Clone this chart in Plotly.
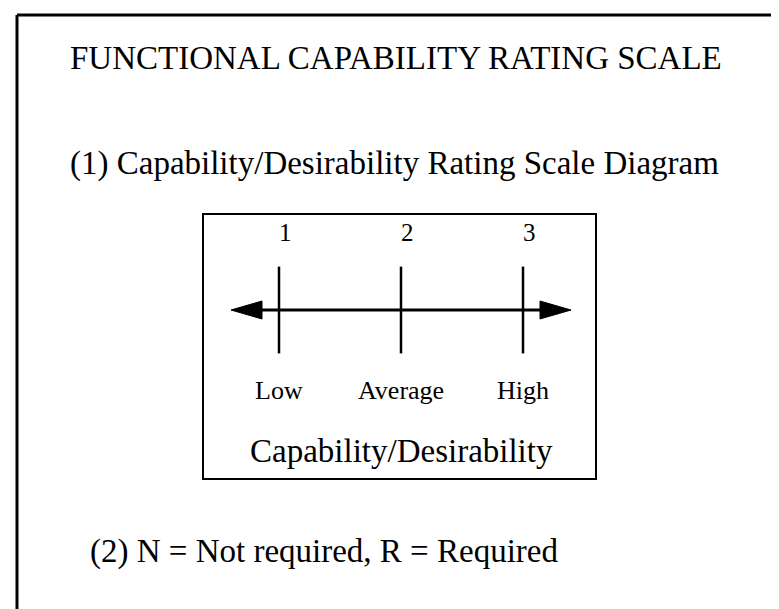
import plotly.graph_objects as go

# ---- data -------------------------------------------------------------
title_text = "FUNCTIONAL CAPABILITY RATING SCALE"
subtitle_text = "(1) Capability/Desirability Rating Scale Diagram"
note_text = "(2) N = Not required, R = Required"
axis_title = "Capability/Desirability"

ratings = [1, 2, 3]
rating_labels = ["1", "2", "3"]
level_labels = ["Low", "Average", "High"]

# ---- styling constants ------------------------------------------------
W, H = 779, 609
FONT = "Liberation Serif, Times New Roman, serif"
INK = "black"

# inner box (pixels)
BOX_L, BOX_R, BOX_T, BOX_B = 196, 587, 207, 470
LINE_Y = 302  # pixel row of the scale line
PX_PER_UNIT = 122
TICK_PX = 271  # pixel of rating 1

r0 = ratings[0] - (TICK_PX - BOX_L) / PX_PER_UNIT
r1 = r0 + (BOX_R - BOX_L) / PX_PER_UNIT
ARROW_EXT = 48 / PX_PER_UNIT       # arrow tip beyond end ratings
HEAD_LEN = 31 / PX_PER_UNIT
HEAD_HALF = 9

left_tip = ratings[0] - ARROW_EXT
right_tip = ratings[-1] + ARROW_EXT

fig = go.Figure()

# scale line (between arrowheads)
fig.add_trace(go.Scatter(
    x=[left_tip + HEAD_LEN * 0.9, right_tip - HEAD_LEN * 0.9], y=[0, 0],
    mode="lines", line=dict(color=INK, width=3), hoverinfo="skip"))

# arrowheads
fig.add_trace(go.Scatter(
    x=[left_tip, left_tip + HEAD_LEN, left_tip + HEAD_LEN, left_tip],
    y=[0, HEAD_HALF, -HEAD_HALF, 0], fill="toself", fillcolor=INK,
    mode="lines", line=dict(color=INK, width=1), hoverinfo="skip"))
fig.add_trace(go.Scatter(
    x=[right_tip, right_tip - HEAD_LEN, right_tip - HEAD_LEN, right_tip],
    y=[0, HEAD_HALF, -HEAD_HALF, 0], fill="toself", fillcolor=INK,
    mode="lines", line=dict(color=INK, width=1), hoverinfo="skip"))

# tick marks at each rating
fig.add_trace(go.Scatter(
    x=ratings, y=[0] * len(ratings), mode="markers",
    marker=dict(symbol="line-ns", size=62, line=dict(color=INK, width=2.5)),
    hoverinfo="skip"))

ann = []
for r, lab, lvl in zip(ratings, rating_labels, level_labels):
    ann.append(dict(x=r, y=LINE_Y - 225, xref="x", yref="y", text=lab,
                    showarrow=False, xshift=6,
                    font=dict(family=FONT, size=25, color=INK)))
    ann.append(dict(x=r, y=LINE_Y - 383, xref="x", yref="y", text=lvl,
                    showarrow=False,
                    font=dict(family=FONT, size=26, color=INK)))
ann.append(dict(x=ratings[1], y=LINE_Y - 443, xref="x", yref="y", text=axis_title,
                showarrow=False, font=dict(family=FONT, size=33, color=INK)))

ann.append(dict(x=60 / W, y=1 - 50 / H, xref="paper", yref="paper", text=title_text,
                showarrow=False, xanchor="left", yanchor="middle",
                font=dict(family=FONT, size=33, color=INK)))
ann.append(dict(x=60 / W, y=1 - 155 / H, xref="paper", yref="paper", text=subtitle_text,
                showarrow=False, xanchor="left", yanchor="middle",
                font=dict(family=FONT, size=33, color=INK)))
ann.append(dict(x=80 / W, y=1 - 543 / H, xref="paper", yref="paper", text=note_text,
                showarrow=False, xanchor="left", yanchor="middle",
                font=dict(family=FONT, size=33, color=INK)))

shapes = [
    dict(type="line", xref="paper", yref="paper", x0=9 / W, x1=1, y0=1 - 7 / H, y1=1 - 7 / H,
         line=dict(color=INK, width=3)),
    dict(type="line", xref="paper", yref="paper", x0=9 / W, x1=9 / W, y0=0, y1=1 - 7 / H,
         line=dict(color=INK, width=3)),
]

fig.update_layout(
    width=W, height=H, margin=dict(l=0, r=0, t=0, b=0),
    paper_bgcolor="white", plot_bgcolor="white", showlegend=False,
    annotations=ann, shapes=shapes,
    xaxis=dict(domain=[BOX_L / W, BOX_R / W], range=[r0, r1], showgrid=False,
               zeroline=False, showticklabels=False, ticks="",
               showline=True, mirror=True, linecolor=INK, linewidth=2),
    yaxis=dict(domain=[1 - BOX_B / H, 1 - BOX_T / H],
               range=[LINE_Y - BOX_B, LINE_Y - BOX_T], showgrid=False,
               zeroline=False, showticklabels=False, ticks="",
               showline=True, mirror=True, linecolor=INK, linewidth=2),
)

fig.write_html("out.html")
